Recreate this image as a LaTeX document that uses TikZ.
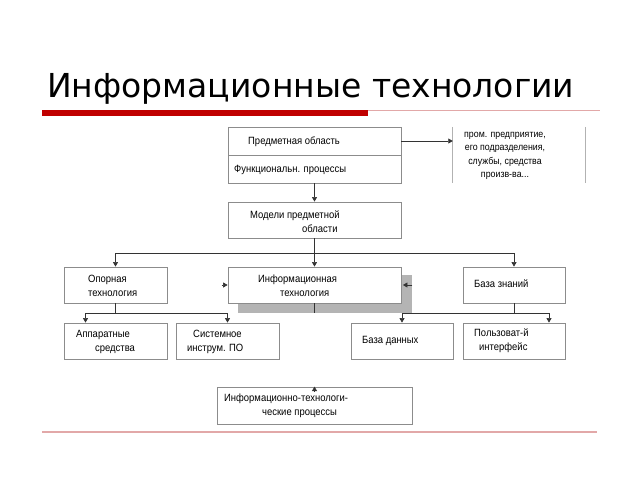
\documentclass[tikz,border=0pt]{standalone}
\usepackage{fontspec}
\setmainfont{Liberation Sans}
\newfontfamily\narrowfont[FakeStretch=0.9]{Liberation Sans}
\newfontfamily\titlefont{DejaVu Sans}
\usetikzlibrary{arrows.meta}
\definecolor{boxgray}{HTML}{8C8C8C}
\definecolor{barred}{HTML}{C00000}
\definecolor{thinred}{HTML}{E2A8A8}
\definecolor{shadowgray}{HTML}{B4B4B4}
\begin{document}
\begin{tikzpicture}[x=1pt,y=-1pt,
  box/.style={draw=boxgray, line width=0.8pt, fill=white, inner sep=0pt},
  txt/.style={inner sep=0pt, anchor=west, align=left, font=\narrowfont\fontsize{10.5}{14}\selectfont},
  conn/.style={draw=black!80, line width=0.6pt},
  arr/.style={conn, -{Triangle[width=5pt,length=4.5pt]}}
]
\useasboundingbox (0,0) rectangle (640,480);
% title
\node[inner sep=0pt, anchor=base west, font=\titlefont\fontsize{33}{38}\selectfont] (title) at (47,97) {Информационные технологии};
\fill[barred] (42,110) rectangle (368,116);
\draw[thinred, line width=0.7pt] (368,110.5) -- (600,110.5);
\draw[thinred, line width=1.4pt] (42,432) -- (597,432);

% top boxes
\node[box, minimum width=173pt, minimum height=28pt] (subA) at (314.5,141) {};
\node[box, minimum width=173pt, minimum height=28pt] (subB) at (314.5,169) {};
\node[txt] (tA) at (248,142) {Предметная область};
\node[txt] (tB) at (234,170) {Функциональн. процессы};
\node[inner sep=0pt, minimum width=132pt, minimum height=56pt] (rbox) at (519,155) {};
\draw[black!30, line width=0.7pt] (rbox.north west) -- (rbox.south west);
\draw[black!30, line width=0.7pt] (rbox.north east) -- (rbox.south east);
\node[inner sep=0pt, align=center, font=\narrowfont\fontsize{9.8}{13.5}\selectfont] (tR) at (505,156) {пром. предприятие,\\его подразделения,\\службы, средства\\произв-ва...};
\draw[arr] (subA.east) -- (subA.east -| rbox.west);

% models
\node[box, minimum width=173pt, minimum height=36pt] (models) at (314.5,220) {};
\node[txt] (tM) at (250,221.5) {Модели предметной\\\hspace*{52pt}области};
\draw[arr] (subB.south) -- (models.north);

% second row
\node[box, minimum width=103pt, minimum height=36pt] (op) at (115.5,285) {};
\node[txt] (tOp) at (88,286) {Опорная\\технология};
\fill[shadowgray] (238,275) rectangle (412,313);
\node[box, minimum width=173pt, minimum height=36pt] (it) at (314.5,285) {};
\node[txt] (tIt) at (258,285.5) {Информационная\\\hspace*{22pt}технология};
\node[box, minimum width=102pt, minimum height=36pt] (kb) at (514,285) {};
\node[txt] (tKb) at (474,284) {База знаний};

\coordinate (j1) at (314.5,253);
\draw[conn] (models.south) -- (j1);
\draw[arr] (j1) -- (it.north);
\draw[arr] (j1) -| (op.north);
\draw[arr] (j1) -| (kb.north);
\draw[arr] ([xshift=-6pt]it.west) -- (it.west);
\draw[arr] ([xshift=11pt]it.east) -- ([xshift=1.5pt]it.east);

% third row
\node[box, minimum width=103pt, minimum height=36pt] (hw) at (115.5,341) {};
\node[txt] (tHw) at (76,341.5) {Аппаратные\\\hspace*{19pt}средства};
\node[box, minimum width=103pt, minimum height=36pt] (sys) at (227.5,341) {};
\node[txt] (tSys) at (187,341.5) {\hspace*{6pt}Системное\\инструм. ПО};
\node[box, minimum width=102pt, minimum height=36pt] (db) at (402,341) {};
\node[txt] (tDb) at (362,341) {База данных};
\node[box, minimum width=102pt, minimum height=36pt] (ui) at (514,341) {};
\node[txt] (tUi) at (474,341) {Пользоват-й\\\hspace*{5pt}интерфейс};

\coordinate (j2) at (115.5,313);
\draw[conn] (op.south) -- (j2);
\draw[arr] (j2) -| ([xshift=-30pt]hw.north);
\draw[arr] (j2) -| (sys.north);
\coordinate (j3) at (514,313);
\draw[conn] (kb.south) -- (j3);
\draw[arr] (j3) -| (db.north);
\draw[arr] (j3) -| ([xshift=35pt]ui.north);

% processes
\node[box, minimum width=195pt, minimum height=37pt] (proc) at (314.5,405.5) {};
\node[txt] (tProc) at (224,405.5) {Информационно-технологи-\\\hspace*{38pt}ческие процессы};
\draw[conn] (it.south) -- ++(0,10);
\draw[arr] ([yshift=-4pt]proc.north) -- (proc.north);
\end{tikzpicture}
\end{document}
